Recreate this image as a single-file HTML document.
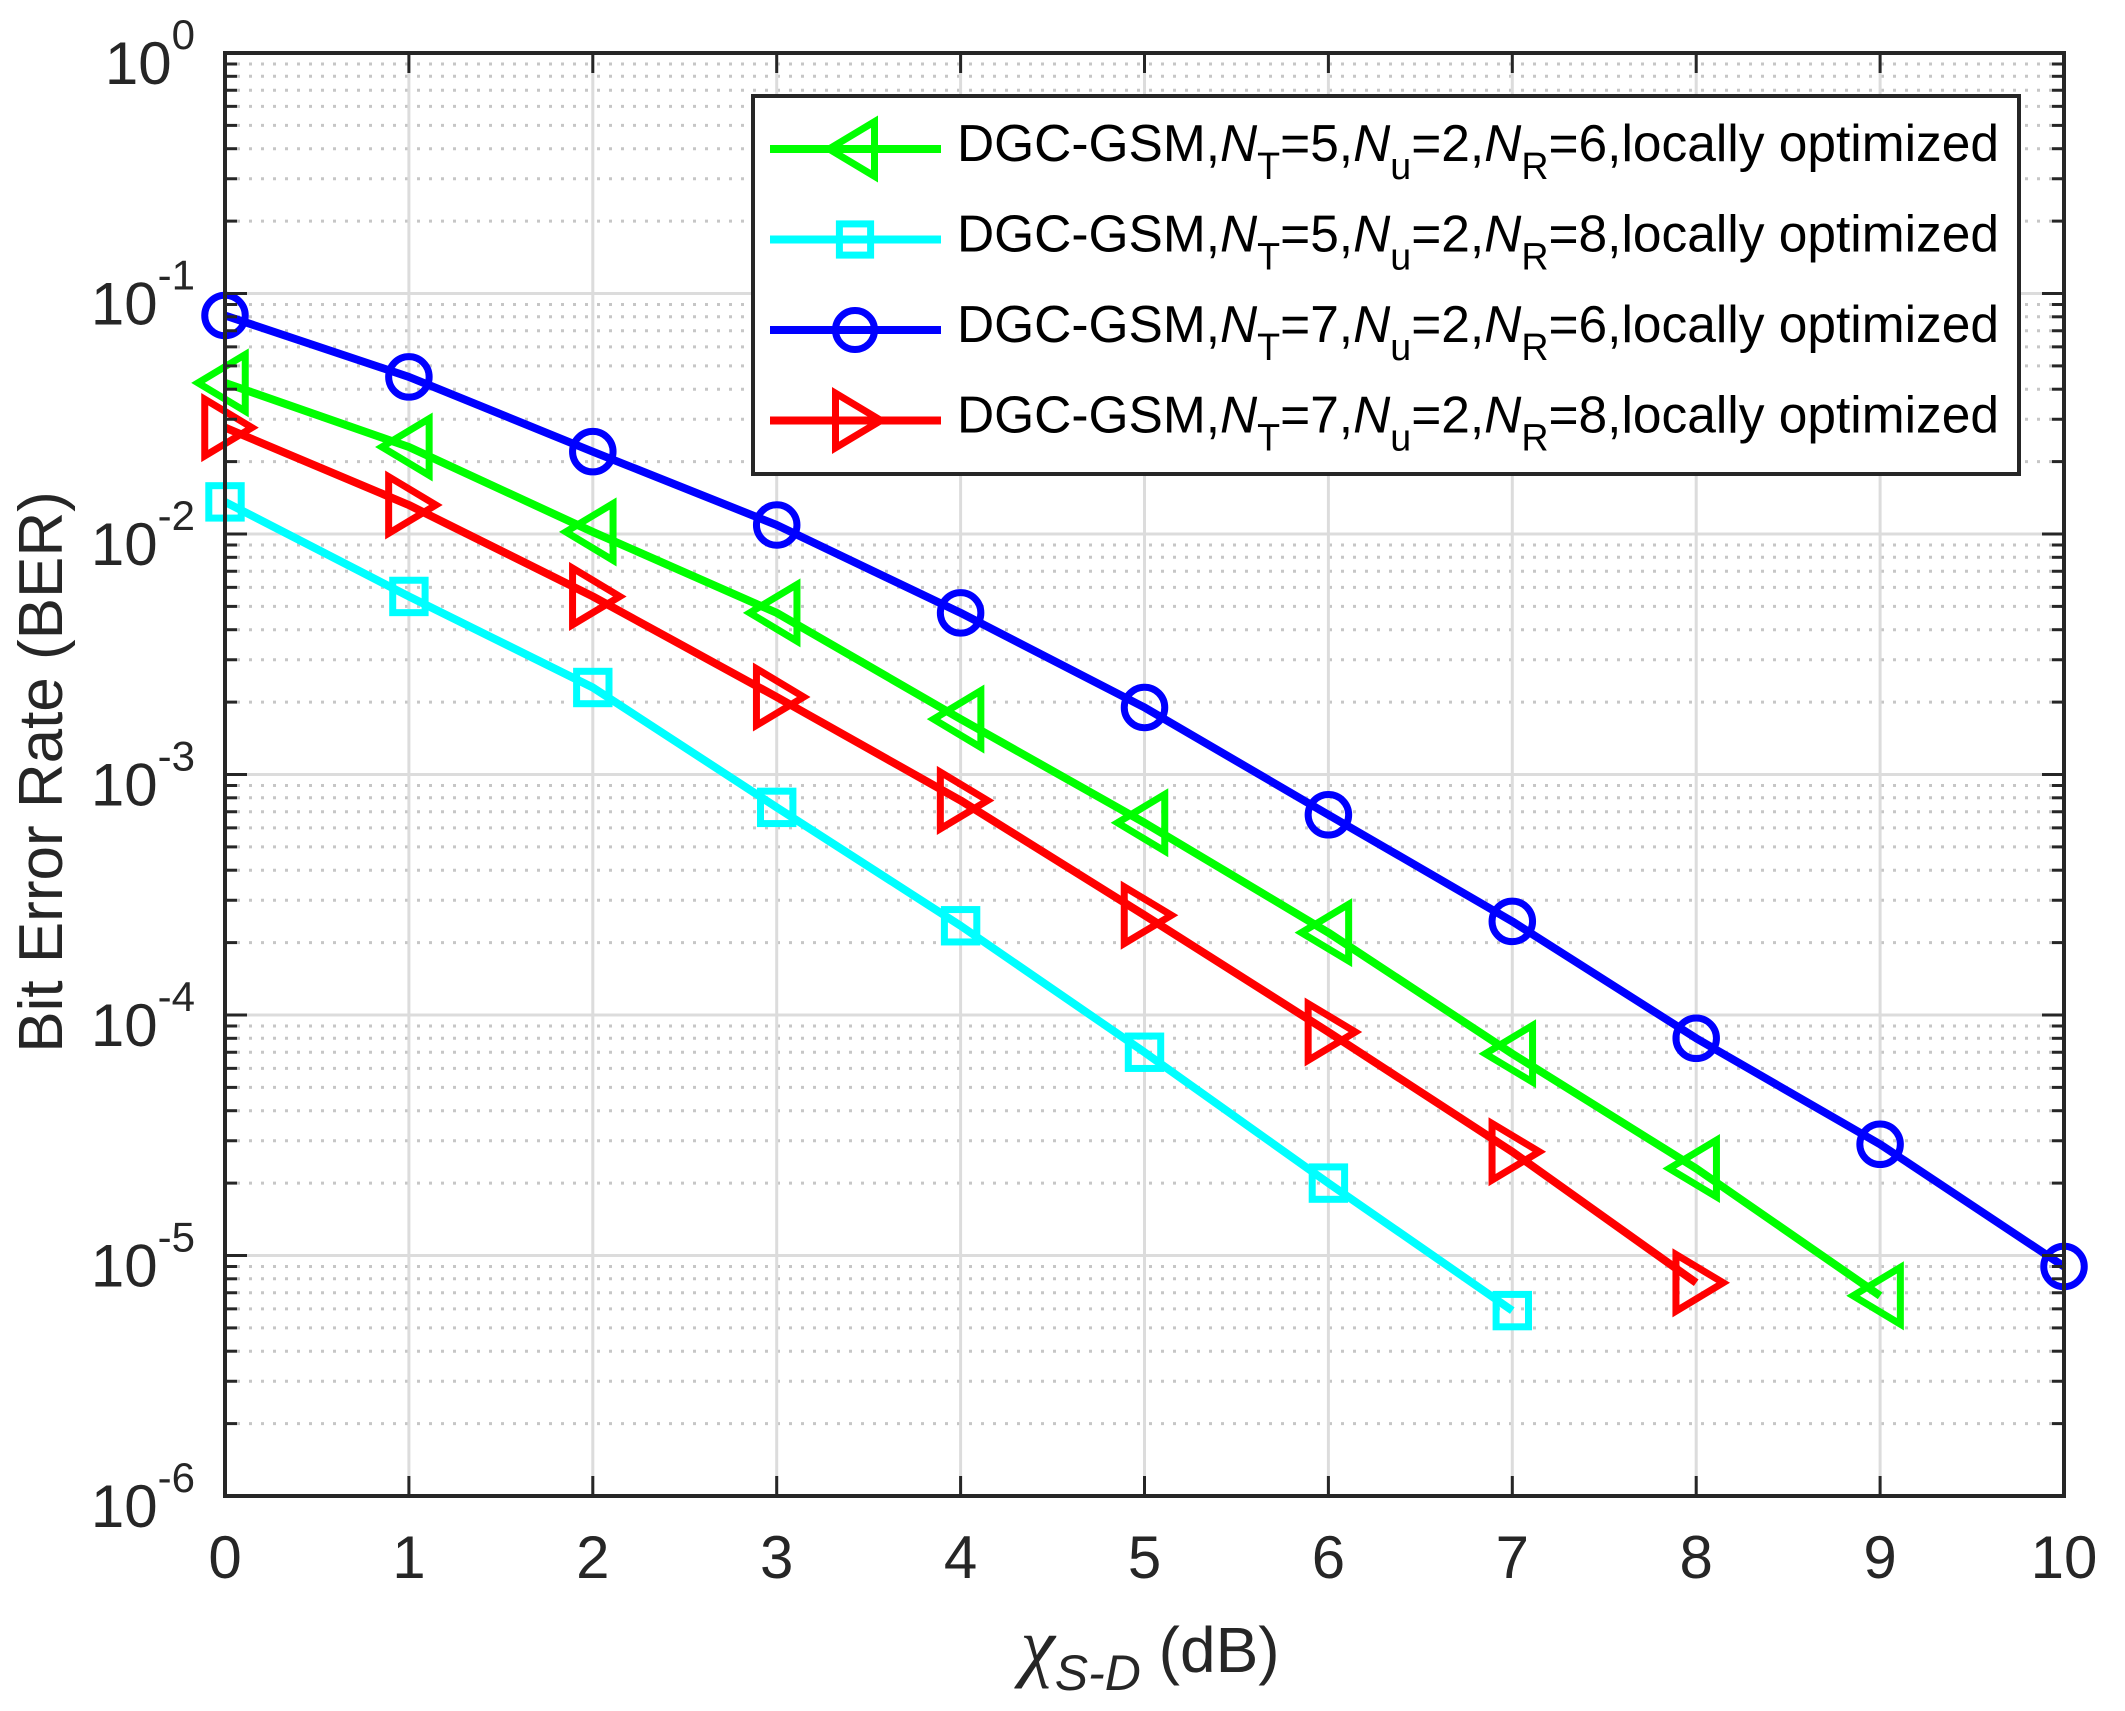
<!DOCTYPE html>
<html><head><meta charset="utf-8"><style>
html,body{margin:0;padding:0;background:#fff;}
svg{display:block;font-family:"Liberation Sans",Arial,sans-serif;}
</style></head><body>
<svg id="chart" width="2125" height="1711" viewBox="0 0 2125 1711" xmlns="http://www.w3.org/2000/svg">
<rect x="0" y="0" width="2125" height="1711" fill="#fff"/>
<g id="grid"></g>
<g id="series"></g>
<g id="axes"></g>
<g id="legend"></g>
<text transform="translate(62,772) rotate(-90)" text-anchor="middle" font-size="62" fill="#262626">Bit Error Rate (BER)</text>
<text x="1150" y="1672" text-anchor="middle" font-size="64" fill="#262626"><tspan font-family="'Liberation Serif',serif" font-style="italic" font-size="78">χ</tspan><tspan font-style="italic" font-size="50" dy="18">S-D</tspan><tspan dy="-18"> (dB)</tspan></text>
</svg>
<script>
const xCategories = [0,1,2,3,4,5,6,7,8,9,10];
const xTickLabels = ["0","1","2","3","4","5","6","7","8","9","10"];
const yDecades = [0,-1,-2,-3,-4,-5,-6];
const berGreen = [0.0425,0.023,0.0102,0.0047,0.0017,6.3e-4,2.2e-4,6.9e-5,2.3e-5,6.8e-6];
const berCyan  = [0.0136,0.0055,0.0023,7.3e-4,2.35e-4,7e-5,2e-5,5.9e-6];
const berBlue  = [0.081,0.045,0.022,0.0109,0.0047,0.0019,6.8e-4,2.45e-4,8e-5,2.9e-5,9e-6];
const berRed   = [0.0277,0.0132,0.0055,0.0021,7.8e-4,2.6e-4,8.5e-5,2.7e-5,7.7e-6];
const seriesNames = ["green","cyan","blue","red"];

const NS="http://www.w3.org/2000/svg";
const L=225,R=2064,T=53,B=1496;
const xs=v=>L+(v-0)/(10-0)*(R-L);
const ys=v=>T+(0-Math.log10(v))/6*(B-T);
function mk(tag,attrs,parent){const e=document.createElementNS(NS,tag);for(const k in attrs)e.setAttribute(k,attrs[k]);parent.appendChild(e);return e;}
const grid=document.getElementById('grid'),axes=document.getElementById('axes'),ser=document.getElementById('series'),leg=document.getElementById('legend');

for(let d=0;d>-6;d--){for(let m=2;m<=9;m++){const y=ys(m*Math.pow(10,d-1));
 const g=mk('line',{x1:L,x2:R,y1:y,y2:y,stroke:'#c6c6c6','stroke-width':3,'stroke-dasharray':'3 9'},grid);
 
 
 for(const [a,b] of [[L,L+12],[R-12,R]]){const t=mk('line',{x1:a,x2:b,y1:y,y2:y,stroke:'#262626','stroke-width':3},axes);
 
 }
}}
yDecades.forEach(d=>{const y=ys(Math.pow(10,d));
 const g=mk('line',{x1:L,x2:R,y1:y,y2:y,stroke:'#dcdcdc','stroke-width':3},grid);
 
 
 for(const [a,b] of [[L,L+22],[R-22,R]]){const t=mk('line',{x1:a,x2:b,y1:y,y2:y,stroke:'#262626','stroke-width':3},axes);
 
 }
 const tx=mk('text',{x:195,y:y+31,'text-anchor':'end','font-size':60,fill:'#262626'},axes);
 
 
 tx.innerHTML='10<tspan font-size="42" dy="-35">'+(d===0?'0':'-'+(-d))+'</tspan>';
});
xCategories.forEach((c,i)=>{const x=xs(c);
 const g=mk('line',{x1:x,x2:x,y1:T,y2:B,stroke:'#dcdcdc','stroke-width':3},grid);
 
 
 for(const [a,b] of [[T,T+20],[B-20,B]]){const t=mk('line',{x1:x,x2:x,y1:a,y2:b,stroke:'#262626','stroke-width':3},axes);
 
 }
 const tx=mk('text',{x:x,y:1578,'text-anchor':'middle','font-size':60,fill:'#262626'},axes);
 
 
 tx.textContent=xTickLabels[i];
});
const fr=mk('rect',{x:L,y:T,width:R-L,height:B-T,fill:'none',stroke:'#262626','stroke-width':4},axes);



function marker(type,x,y,color,parent,s){
 let e;
 if(type==='left') e=mk('polygon',{points:`${x-s},${y} ${x+s*0.75},${y-s*1.05} ${x+s*0.75},${y+s*1.05}`},parent);
 else if(type==='right') e=mk('polygon',{points:`${x+s},${y} ${x-s*0.75},${y-s*1.05} ${x-s*0.75},${y+s*1.05}`},parent);
 else if(type==='square') e=mk('rect',{x:x-s*0.6,y:y-s*0.6,width:s*1.2,height:s*1.2},parent);
 else e=mk('circle',{cx:x,cy:y,r:s*0.75},parent);
 e.setAttribute('fill','none');e.setAttribute('stroke',color);e.setAttribute('stroke-width',7);
 return e;
}
const defs=[[berGreen,'#00ff00','left'],[berCyan,'#00ffff','square'],[berBlue,'#0000ff','circle'],[berRed,'#ff0000','right']];
defs.forEach(([vals,color,type],si)=>{
 const g=mk('g',{},ser);
 
 
 const pts=vals.map((v,i)=>xs(xCategories[i])+','+ys(v)).join(' ');
 const pl=mk('polyline',{points:pts,fill:'none',stroke:color,'stroke-width':8,'stroke-linejoin':'round'},g);
 
 
 vals.forEach((v,i)=>{const m=marker(type,xs(xCategories[i]),ys(v),color,g,27);
  
  });
});

const lb=mk('rect',{x:753,y:96,width:1266,height:378,fill:'#fff',stroke:'#262626','stroke-width':4},leg);


const labs=[["5","6"],["5","8"],["7","6"],["7","8"]];
defs.forEach(([vals,color,type],i)=>{
 const y=149+i*90.5;
 const g=mk('g',{},leg);
 
 
 mk('line',{x1:770,x2:941,y1:y,y2:y,stroke:color,'stroke-width':8},g);
 marker(type,855,y,color,g,26);
 const t=mk('text',{x:957,y:y+12,'font-size':52,fill:'#000',textLength:1042,lengthAdjust:'spacingAndGlyphs'},g);
 t.innerHTML=`DGC-GSM,<tspan font-style="italic">N</tspan><tspan font-size="38" dy="18">T</tspan><tspan dy="-18">=${labs[i][0]},</tspan><tspan font-style="italic">N</tspan><tspan font-size="38" dy="18">u</tspan><tspan dy="-18">=2,</tspan><tspan font-style="italic">N</tspan><tspan font-size="38" dy="18">R</tspan><tspan dy="-18">=${labs[i][1]},locally optimized</tspan>`;
});
</script>
</body></html>
